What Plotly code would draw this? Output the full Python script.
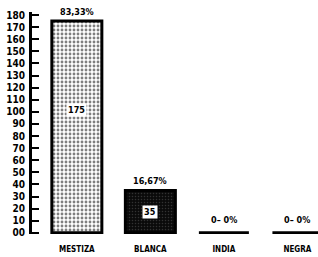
import plotly.graph_objects as go

categories = ["MESTIZA", "BLANCA", "INDIA", "NEGRA"]
values = [175, 35, 0, 0]
pct_labels = ["83,33%", "16,67%", "0\u2013 0%", "0\u2013 0%"]
inner_labels = ["175", "35", "", ""]
y_ticks = [0, 10, 20, 30, 40, 50, 60, 70, 80, 90, 100, 110, 120, 130, 140, 150, 160, 170, 180]
y_ticktext = ["00", "10", "20", "30", "40", "50", "60", "70", "80", "90", "100",
              "110", "120", "130", "140", "150", "160", "170", "180"]

xs = list(range(len(categories)))
BW = 0.68
FONT = "DejaVu Sans Condensed"

fig = go.Figure()
fig.add_trace(go.Bar(
    x=xs[:1], y=values[:1], width=BW,
    marker=dict(color="white",
                pattern=dict(shape=".", fgcolor="black", bgcolor="white", size=4, solidity=0.4),
                line=dict(color="black", width=3)),
    hoverinfo="skip", showlegend=False))
fig.add_trace(go.Bar(
    x=xs[1:2], y=values[1:2], width=BW,
    marker=dict(color="#0a0a0a",
                pattern=dict(shape=".", fgcolor="#5a5a5a", bgcolor="#0a0a0a", size=3, solidity=0.2),
                line=dict(color="black", width=3)),
    hoverinfo="skip", showlegend=False))

shapes = []
annotations = []
inner_frac = [0.58, 0.5, 0, 0]
for i, (v, p, t) in enumerate(zip(values, pct_labels, inner_labels)):
    if v == 0:
        shapes.append(dict(type="line", xref="x", yref="y", x0=i - BW / 2, x1=i + BW / 2,
                           y0=v, y1=v, line=dict(color="black", width=3)))
    annotations.append(dict(x=i, y=v, xref="x", yref="y", text="<b>%s</b>" % p,
                            showarrow=False, yanchor="bottom", yshift=2 if v else 6,
                            font=dict(family=FONT, size=9, color="black")))
    if t:
        annotations.append(dict(x=i, y=v * inner_frac[i], xref="x", yref="y", text="<b>%s</b>" % t,
                                showarrow=False, bgcolor="white", borderpad=1,
                                font=dict(family=FONT, size=9, color="black")))

fig.update_layout(
    width=318, height=257,
    margin=dict(l=32, r=0, t=12, b=23),
    paper_bgcolor="white", plot_bgcolor="white",
    bargap=0.3,
    shapes=shapes, annotations=annotations,
    xaxis=dict(range=[-0.61, 3.28], tickvals=xs,
               ticktext=["<b>%s</b>" % c for c in categories],
               tickfont=dict(family=FONT, size=8, color="black"),
               showline=False, showgrid=False, zeroline=False, ticks="",
               ticklabelstandoff=9, fixedrange=True),
    yaxis=dict(range=[-1, 182.5], tickvals=y_ticks,
               ticktext=["<b>%s</b>" % t for t in y_ticktext],
               tickfont=dict(family=FONT, size=10, color="black"),
               showline=True, linecolor="black", linewidth=3,
               ticks="inside", ticklen=7, tickwidth=2, tickcolor="black",
               showgrid=False, zeroline=False, ticklabelstandoff=2, fixedrange=True),
)

fig.write_html("out.html", config={"displayModeBar": False},
               post_script="document.body.style.margin='0';document.body.style.overflow='hidden';")
